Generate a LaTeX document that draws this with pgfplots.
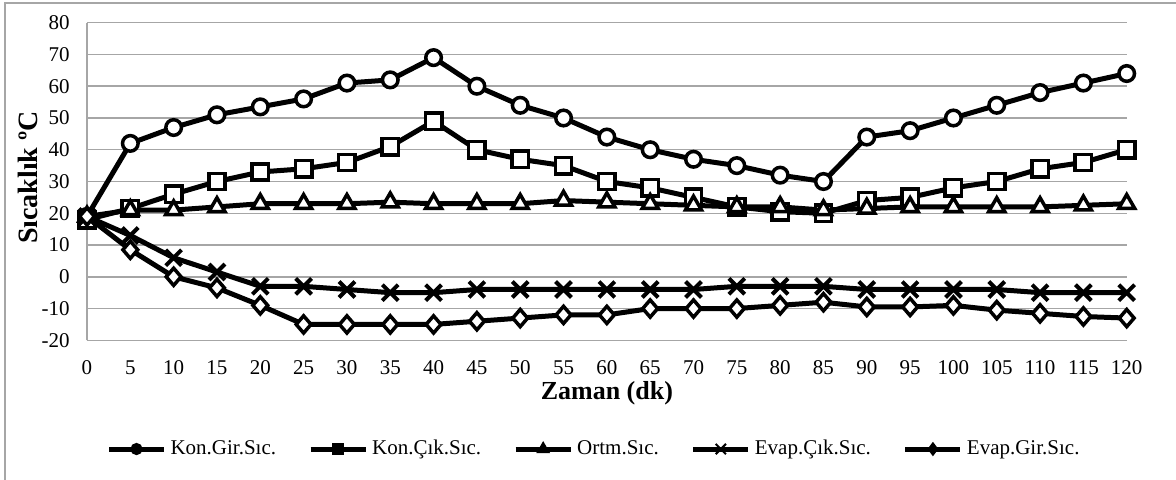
\documentclass[border=0pt]{standalone}
\usepackage{fontspec}
\setmainfont{Liberation Serif}
\usepackage{pgfplots}
\usepackage{pgfplotstable}
\pgfplotsset{compat=1.18}
\pgfplotstableread{
t  KG    KC    OR    EC    EG
0   19    18    19    19    19
5   42    21.5  21    13    8.5
10  47    26    21    6     0
15  51    30    22    1.5   -3.5
20  53.5  33    23    -3    -9
25  56    34    23    -3    -15
30  61    36    23    -4    -15
35  62    41    23.5  -5    -15
40  69    49    23    -5    -15
45  60    40    23    -4    -14
50  54    37    23    -4    -13
55  50    35    24    -4    -12
60  44    30    23.5  -4    -12
65  40    28    23    -4    -10
70  37    25    22.5  -4    -10
75  35    22    22    -3    -10
80  32    20.5  22    -3    -9
85  30    20    21    -3    -8
90  44    24    21.5  -4    -9.5
95  46    25    22    -4    -9.5
100 50    28    22    -4    -9
105 54    30    22    -4    -10.5
110 58    34    22    -5    -11.5
115 61    36    22.5  -5    -12.5
120 64    40    23    -5    -13
}\datatable
\begin{document}
\begin{tikzpicture}
\useasboundingbox (0pt,0pt) rectangle (588pt,239.5pt);
\draw[gray!70, line width=0.75pt] (2.5pt,-5pt) -- (2.5pt,238pt) -- (600pt,238pt);
\begin{axis}[
  at={(43.5pt,69.35pt)}, anchor=south west,
  scale only axis, width=519.85pt, height=158.8pt,
  xmin=0, xmax=120, ymin=-20, ymax=80,
  xtick={0,5,...,120}, ytick={-20,-10,...,80},
  ymajorgrids, grid style={gray!70, line width=0.75pt},
  axis x line*=bottom, axis y line*=left,
  axis line style={gray!70, line width=0.75pt, -},
  major tick length=0pt,
  tick label style={font=\fontsize{10.5}{11}\selectfont},
  /pgf/number format/assume math mode=true,
  yticklabel style={inner sep=0pt, anchor=east, xshift=-8.5pt},
  xticklabel style={inner sep=0pt, anchor=north, yshift=-9.8pt},
  xlabel={Zaman (dk)},
  xlabel style={font=\bfseries\fontsize{13}{14}\selectfont, at={(axis description cs:0.5,0)}, anchor=center, yshift=-26.35pt},
  ylabel={Sıcaklık ºC},
  ylabel style={font=\bfseries\fontsize{14}{15}\selectfont, at={(axis description cs:0,0.5)}, anchor=center, yshift=29.5pt, xshift=2pt},
  legend columns=5,
  legend style={at={(axis description cs:0.4886,-0.3423)}, anchor=center, draw=none, fill=none,
    font=\fontsize{10.5}{12}\selectfont,
    nodes={inner xsep=2pt, inner ysep=1pt},
    /tikz/every even column/.append style={column sep=14pt},
    inner sep=0pt},
  legend cell align=left,
  legend image code/.code={\draw[mark repeat=2,mark phase=2,#1,mark options={fill=black, solid, scale=0.65, line width=1pt}] plot coordinates {(0pt,0pt) (13.75pt,0pt) (27.5pt,0pt)};},
  every axis plot/.append style={black, line width=2.5pt},
]
\addplot[mark=*, mark size=3.9pt, mark options={fill=white, line width=1.75pt}] table[x=t,y=KG]{\datatable};
\addlegendentry{Kon.Gir.Sıc.}
\addplot[mark=square*, mark size=4.1pt, mark options={fill=white, line width=1.75pt}] table[x=t,y=KC]{\datatable};
\addlegendentry{Kon.Çık.Sıc.}
\addplot[mark=triangle*, mark size=4.6pt, mark options={fill=white, line width=1.75pt}] table[x=t,y=OR]{\datatable};
\addlegendentry{Ortm.Sıc.}
\addplot[mark=x, mark size=5.6pt, mark options={line width=2pt}] table[x=t,y=EC]{\datatable};
\addlegendentry{Evap.Çık.Sıc.}
\addplot[mark=diamond*, mark size=4.3pt, mark options={fill=white, line width=1.75pt, xscale=1.15}] table[x=t,y=EG]{\datatable};
\addlegendentry{Evap.Gir.Sıc.}
\end{axis}
\end{tikzpicture}
\end{document}
